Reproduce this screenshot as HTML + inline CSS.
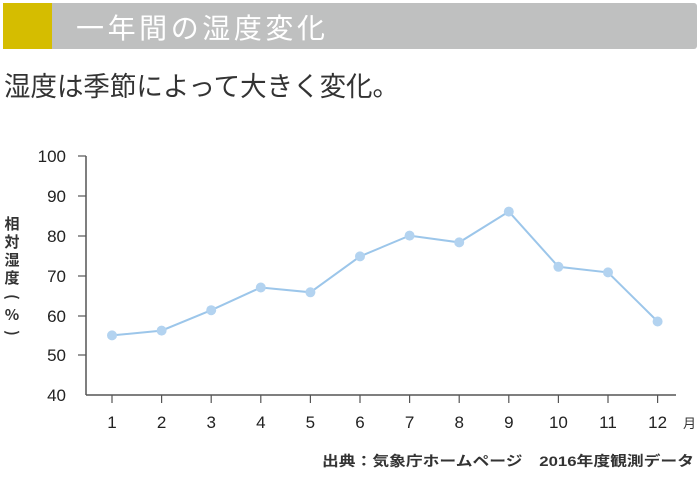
<!DOCTYPE html>
<html><head><meta charset="utf-8"><style>
body{margin:0;width:700px;height:480px;background:#fff;overflow:hidden;font-family:"Liberation Sans","Noto Sans CJK JP",sans-serif;}
</style></head><body>
<svg width="700" height="480" xmlns="http://www.w3.org/2000/svg" style="position:absolute;left:0;top:0">
<rect x="3" y="3" width="694" height="46" rx="3" fill="#bfc0c0"/>
<rect x="3" y="3" width="49" height="46" fill="#d5bd00"/>
<text x="76" y="38" font-size="28" fill="#fff" font-family="Noto Sans CJK JP, sans-serif" textLength="249" lengthAdjust="spacing">一年間の湿度変化</text>
<text x="4" y="96" font-size="27" fill="#333" font-family="Noto Sans CJK JP, sans-serif" textLength="395" lengthAdjust="spacingAndGlyphs">湿度は季節によって大きく変化。</text>
<g stroke="#555" stroke-width="1.5" fill="none">
<line x1="86" y1="156" x2="86" y2="395"/>
<line x1="86" y1="395" x2="676" y2="395"/>
</g>
<g stroke="#555" stroke-width="1.2">
<line x1="78" y1="156" x2="86" y2="156"/><line x1="78" y1="196" x2="86" y2="196"/>
<line x1="78" y1="236" x2="86" y2="236"/><line x1="78" y1="276" x2="86" y2="276"/>
<line x1="78" y1="316" x2="86" y2="316"/><line x1="78" y1="355" x2="86" y2="355"/>
</g>
<g font-size="17" fill="#222" text-anchor="end" font-family="Liberation Sans, sans-serif">
<text x="66" y="162">100</text><text x="66" y="202">90</text><text x="66" y="242">80</text>
<text x="66" y="282">70</text><text x="66" y="322">60</text><text x="66" y="361">50</text><text x="66" y="401">40</text>
</g>
<g font-size="15" fill="#333" font-weight="bold" font-family="Noto Sans CJK JP, sans-serif" text-anchor="middle">
<text x="12" y="229">相</text><text x="12" y="247">対</text><text x="12" y="265">湿</text><text x="12" y="283">度</text>
<text x="12" y="302" transform="rotate(90 12 297)">(</text><text x="12" y="320">%</text>
<text x="12" y="338" transform="rotate(90 12 333)">)</text>
</g>
<g font-size="17" fill="#222" text-anchor="middle" font-family="Liberation Sans, sans-serif">
<text x="112" y="428">1</text><text x="161.6" y="428">2</text><text x="211.2" y="428">3</text><text x="260.8" y="428">4</text><text x="310.4" y="428">5</text><text x="360" y="428">6</text><text x="409.6" y="428">7</text><text x="459.2" y="428">8</text><text x="508.8" y="428">9</text><text x="558.4" y="428">10</text><text x="608" y="428">11</text><text x="657.6" y="428">12</text>
</g>
<text x="683" y="428" font-size="13" fill="#333" font-family="Noto Sans CJK JP, sans-serif">月</text>
<g stroke="#555" stroke-width="1.2">
<line x1="112" y1="395" x2="112" y2="403"/><line x1="161.6" y1="395" x2="161.6" y2="403"/><line x1="211.2" y1="395" x2="211.2" y2="403"/><line x1="260.8" y1="395" x2="260.8" y2="403"/><line x1="310.4" y1="395" x2="310.4" y2="403"/><line x1="360" y1="395" x2="360" y2="403"/><line x1="409.6" y1="395" x2="409.6" y2="403"/><line x1="459.2" y1="395" x2="459.2" y2="403"/><line x1="508.8" y1="395" x2="508.8" y2="403"/><line x1="558.4" y1="395" x2="558.4" y2="403"/><line x1="608" y1="395" x2="608" y2="403"/><line x1="657.6" y1="395" x2="657.6" y2="403"/>
</g>
<polyline fill="none" stroke="#9cc6ea" stroke-width="2" points="112,335.4 161.6,330.6 211.2,310.2 260.8,287.5 310.4,292.3 360,256.4 409.6,235.6 459.2,242.4 508.8,211.6 558.4,266.8 608,272.4 657.6,321.5"/>
<g fill="#b3d3f0">
<circle cx="112" cy="335.4" r="5"/><circle cx="161.6" cy="330.6" r="5"/><circle cx="211.2" cy="310.2" r="5"/><circle cx="260.8" cy="287.5" r="5"/><circle cx="310.4" cy="292.3" r="5"/><circle cx="360" cy="256.4" r="5"/><circle cx="409.6" cy="235.6" r="5"/><circle cx="459.2" cy="242.4" r="5"/><circle cx="508.8" cy="211.6" r="5"/><circle cx="558.4" cy="266.8" r="5"/><circle cx="608" cy="272.4" r="5"/><circle cx="657.6" cy="321.5" r="5"/>
</g>
<text x="322" y="466" font-size="14" fill="#333" font-weight="bold" font-family="Liberation Sans, Noto Sans CJK JP, sans-serif" textLength="372" lengthAdjust="spacingAndGlyphs">出典：気象庁ホームページ　2016年度観測データ</text>
</svg>
</body></html>
